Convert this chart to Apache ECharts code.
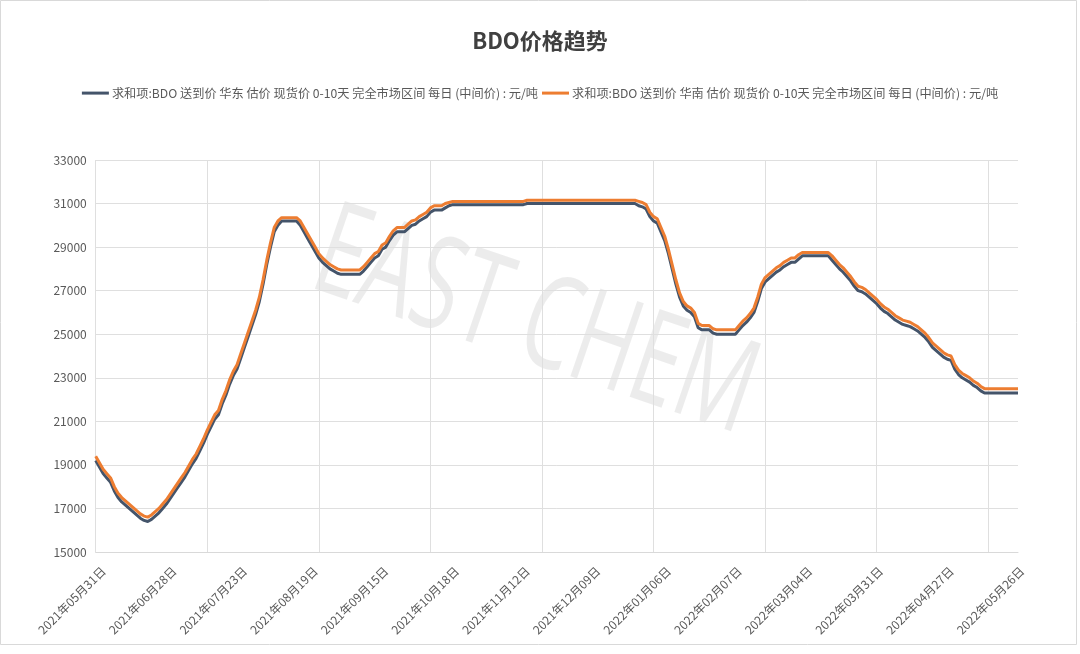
<!DOCTYPE html>
<html>
<head>
<meta charset="utf-8">
<script src="https://cdn.jsdelivr.net/npm/echarts@6/dist/echarts.min.js"></script>
<style>html,body{margin:0;padding:0;background:#fff;}#c{width:1080px;height:654px;}</style>
</head>
<body>
<div id="c"></div>
<script>
const titleText = 'BDO价格趋势';
const seriesNames = [
  '求和项:BDO 送到价 华东 估价 现货价 0-10天 完全市场区间 每日 (中间价) : 元/吨',
  '求和项:BDO 送到价 华南 估价 现货价 0-10天 完全市场区间 每日 (中间价) : 元/吨'
];
const tickLabels = ['2021年05月31日','2021年06月28日','2021年07月23日','2021年08月19日','2021年09月15日','2021年10月18日','2021年11月12日','2021年12月09日','2022年01月06日','2022年02月07日','2022年03月04日','2022年03月31日','2022年04月27日','2022年05月26日'];
const labelEvery = 19;
const gridEvery = 30;
const yTicks = {min: 15000, max: 33000, step: 2000};

const eastChina = [
19200,18900,18600,18400,18200,17800,17500,17300,17150,17000,
16850,16700,16550,16450,16400,16500,16650,16800,17000,17200,
17450,17700,17950,18200,18450,18750,19050,19300,19650,20000,
20400,20750,21100,21300,21800,22200,22700,23100,23400,23900,
24400,24900,25400,25900,26500,27300,28200,29000,29700,30000,
30200,30200,30200,30200,30200,30000,29700,29400,29100,28800,
28500,28300,28150,28000,27900,27800,27750,27750,27750,27750,
27750,27750,27900,28100,28300,28500,28600,28900,29000,29300,
29550,29700,29700,29700,29850,30000,30050,30200,30300,30400,
30600,30700,30700,30700,30800,30900,30950,30950,30950,30950,
30950,30950,30950,30950,30950,30950,30950,30950,30950,30950,
30950,30950,30950,30950,30950,30950,31000,31000,31000,31000,
31000,31000,31000,31000,31000,31000,31000,31000,31000,31000,
31000,31000,31000,31000,31000,31000,31000,31000,31000,31000,
31000,31000,31000,31000,31000,31000,30900,30850,30750,30400,
30200,30100,29700,29300,28700,28000,27300,26700,26300,26100,
26000,25800,25300,25200,25200,25200,25050,25000,25000,25000,
25000,25000,25000,25200,25400,25550,25750,26000,26500,27100,
27400,27550,27700,27850,27950,28100,28200,28300,28300,28450,
28600,28600,28600,28600,28600,28600,28600,28600,28400,28200,
28000,27850,27650,27450,27200,27000,26950,26850,26700,26550,
26400,26200,26050,25950,25800,25650,25550,25450,25400,25350,
25250,25150,25000,24850,24650,24400,24250,24100,23950,23850,
23800,23400,23150,23000,22900,22800,22650,22550,22400,22300,
22300,22300,22300,22300,22300,22300,22300,22300,22300
];
const southChina = [
19400,19100,18800,18600,18400,18000,17700,17500,17350,17200,
17050,16900,16750,16650,16600,16700,16850,17000,17200,17400,
17650,17900,18150,18400,18650,18950,19250,19500,19850,20200,
20600,20950,21300,21500,22000,22400,22900,23300,23600,24100,
24600,25100,25600,26100,26700,27500,28400,29200,29900,30200,
30350,30350,30350,30350,30350,30200,29900,29600,29300,29000,
28700,28500,28350,28200,28100,28000,27950,27950,27950,27950,
27950,27950,28100,28300,28500,28700,28800,29100,29200,29500,
29750,29900,29900,29900,30050,30200,30250,30400,30500,30600,
30800,30900,30900,30900,31000,31050,31100,31100,31100,31100,
31100,31100,31100,31100,31100,31100,31100,31100,31100,31100,
31100,31100,31100,31100,31100,31100,31150,31150,31150,31150,
31150,31150,31150,31150,31150,31150,31150,31150,31150,31150,
31150,31150,31150,31150,31150,31150,31150,31150,31150,31150,
31150,31150,31150,31150,31150,31150,31100,31050,30950,30600,
30400,30300,29900,29500,28900,28200,27500,26900,26500,26300,
26200,26000,25500,25400,25400,25400,25250,25200,25200,25200,
25200,25200,25200,25400,25600,25750,25950,26200,26700,27300,
27600,27750,27900,28050,28150,28300,28400,28500,28500,28650,
28750,28750,28750,28750,28750,28750,28750,28750,28600,28400,
28200,28050,27850,27650,27400,27200,27150,27050,26900,26750,
26600,26400,26250,26150,26000,25850,25750,25650,25600,25550,
25450,25350,25200,25050,24850,24600,24450,24300,24150,24050,
24000,23600,23350,23200,23100,23000,22850,22750,22600,22500,
22500,22500,22500,22500,22500,22500,22500,22500,22500
];

const categories = eastChina.map((_, i) => (i % labelEvery === 0 && tickLabels[i / labelEvery]) ? tickLabels[i / labelEvery] : ('#' + i));

const FONT = '"Noto Sans CJK SC", "Noto Sans", sans-serif';
const chart = echarts.init(document.getElementById('c'), null, {renderer: 'canvas'});
chart.setOption({
  backgroundColor: '#ffffff',
  animation: false,
  title: {
    text: titleText, left: 'center', top: 25,
    textStyle: {fontSize: 22, fontWeight: 'bold', color: '#404040', fontFamily: FONT}
  },
  legend: {
    top: 82, left: 'center', itemWidth: 27, itemHeight: 3, itemGap: 4,
    icon: 'rect',
    textStyle: {fontSize: 12.2, color: '#595959', fontFamily: FONT, padding: [0, 0, 0, -2]},
    data: seriesNames
  },
  graphic: [
    {type: 'rect', z: -20, shape: {x: 0.5, y: 0.5, width: 1076, height: 644}, style: {fill: 'none', stroke: '#d9d9d9', lineWidth: 1}},
    {type: 'text', z: -10, x: 535, y: 325, rotation: -0.33, scaleX: 0.85, scaleY: 1.3,
     style: {text: 'EAST CHEM', fontSize: 100, fontFamily: '"Open Sans", sans-serif', fill: 'rgba(0,0,0,0.075)', align: 'center', verticalAlign: 'middle'}}
  ],
  grid: {left: 95.7, right: 62, top: 160, bottom: 102, containLabel: false},
  xAxis: {
    type: 'category', data: categories, boundaryGap: false,
    axisLine: {show: true, lineStyle: {color: '#d9d9d9'}},
    axisTick: {show: false},
    axisLabel: {interval: labelEvery - 1, rotate: 45, margin: 9, fontSize: 12, color: '#595959', fontFamily: FONT,
                verticalAlign: 'top', lineHeight: 22},
    splitLine: {show: true, interval: gridEvery - 1, lineStyle: {color: '#dfdfdf', width: 1}}
  },
  yAxis: {
    type: 'value', min: yTicks.min, max: yTicks.max, interval: yTicks.step,
    axisLine: {show: false}, axisTick: {show: false},
    axisLabel: {fontSize: 12, color: '#595959', margin: 9, fontFamily: FONT, formatter: v => String(v)},
    splitLine: {lineStyle: {color: '#dfdfdf', width: 1}}
  },
  series: [
    {name: seriesNames[0], type: 'line', data: eastChina, showSymbol: false, symbol: 'none',
     lineStyle: {color: '#44546A', width: 3}, itemStyle: {color: '#44546A'}, z: 3},
    {name: seriesNames[1], type: 'line', data: southChina, showSymbol: false, symbol: 'none',
     lineStyle: {color: '#ED7D31', width: 3}, itemStyle: {color: '#ED7D31'}, z: 4}
  ]
});
</script>
</body>
</html>
